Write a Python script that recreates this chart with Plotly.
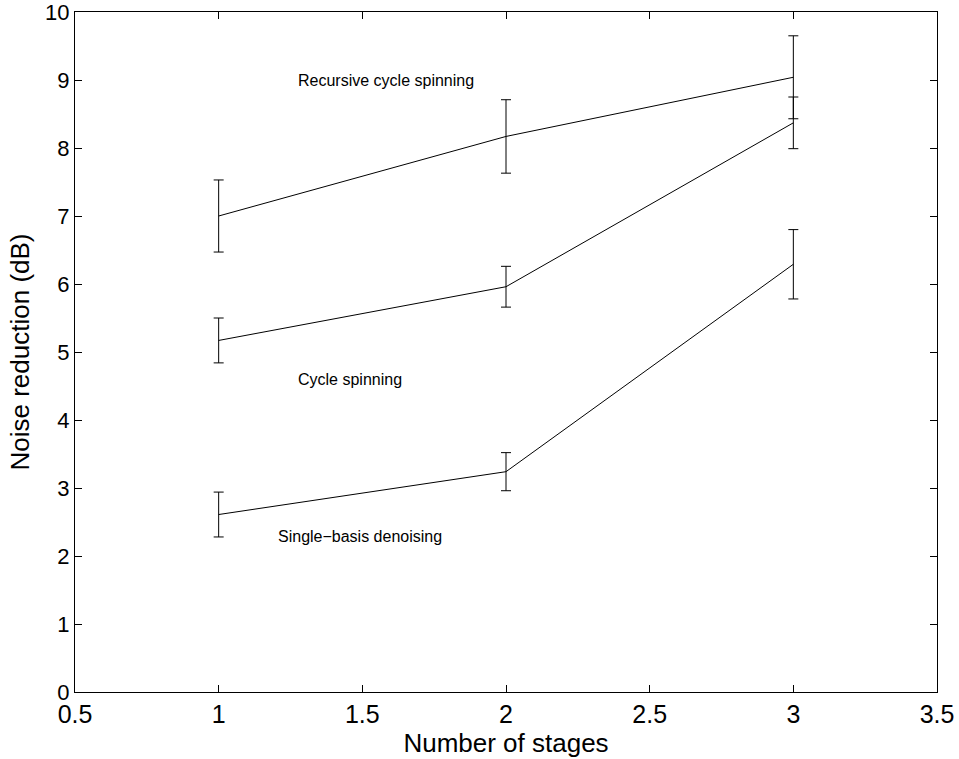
import plotly.graph_objects as go

stages = [1, 2, 3]

recursive_mean = [7.00, 8.17, 9.04]
recursive_err = [0.53, 0.54, 0.61]

cycle_mean = [5.17, 5.96, 8.37]
cycle_err = [0.33, 0.30, 0.38]

single_mean = [2.61, 3.24, 6.29]
single_err = [0.33, 0.28, 0.51]

series = [
    ("Recursive cycle spinning", recursive_mean, recursive_err),
    ("Cycle spinning", cycle_mean, cycle_err),
    ("Single-basis denoising", single_mean, single_err),
]

# label anchor points (left edge of text, data coords)
label_x = [1.27, 1.27, 1.20]
label_y = [9.0, 4.59, 2.29]
label_text = ["Recursive cycle spinning", "Cycle spinning", "Single\u2212basis denoising"]

x_ticks = [0.5, 1, 1.5, 2, 2.5, 3, 3.5]
y_ticks = list(range(0, 11))

FONT = "Liberation Sans, Arial, Helvetica, sans-serif"

fig = go.Figure()
for name, mean, err in series:
    fig.add_trace(go.Scatter(
        x=stages, y=mean, mode="lines", name=name,
        line=dict(color="black", width=1),
        error_y=dict(type="data", array=err, visible=True,
                     color="black", thickness=1, width=5),
        showlegend=False,
    ))

for tx, ty, t in zip(label_x, label_y, label_text):
    fig.add_annotation(x=tx, y=ty, text=t, showarrow=False,
                       xanchor="left", yanchor="middle",
                       font=dict(family=FONT, size=16, color="black"))

axis_common = dict(
    showgrid=False, zeroline=False, showline=True, linecolor="black",
    linewidth=1, mirror="ticks", ticks="inside", ticklen=7,
    tickcolor="black", tickwidth=1, automargin=False,
    ticklabeloverflow="allow",
)

fig.update_xaxes(range=[0.5, 3.5], tickvals=x_ticks,
                 ticktext=[f"{v:g}" for v in x_ticks],
                 tickfont=dict(family=FONT, size=25, color="black"),
                 title=dict(text="Number of stages", standoff=0,
                            font=dict(family=FONT, size=26, color="black")),
                 **axis_common)
fig.update_yaxes(range=[0, 10], tickvals=y_ticks,
                 tickfont=dict(family=FONT, size=22, color="black"),
                 title=dict(text="Noise reduction (dB)", standoff=8,
                            font=dict(family=FONT, size=26, color="black")),
                 **axis_common)

fig.update_layout(
    width=959, height=759,
    margin=dict(l=75, r=22, t=12, b=67),
    plot_bgcolor="white", paper_bgcolor="white",
)

fig.write_html("out.html")
